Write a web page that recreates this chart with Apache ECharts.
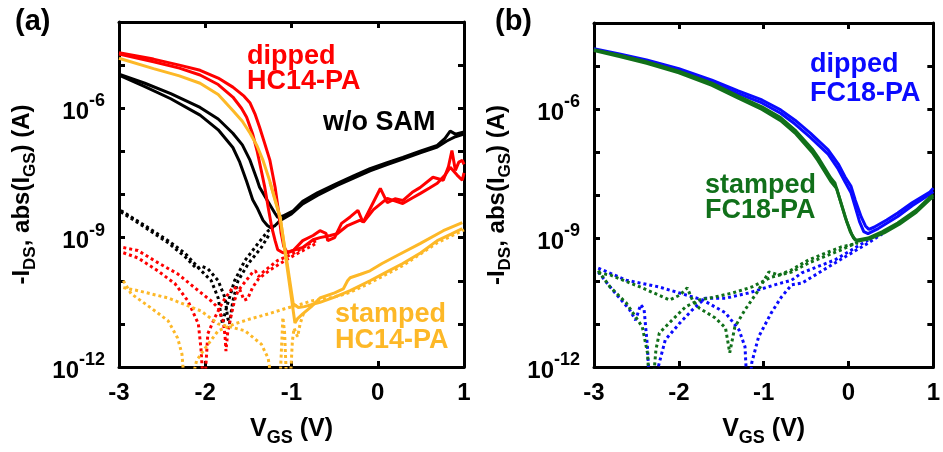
<!DOCTYPE html>
<html>
<head>
<meta charset="utf-8">
<script src="https://cdn.jsdelivr.net/npm/echarts@6/dist/echarts.min.js"></script>
<style>
  html, body { margin: 0; padding: 0; background: #fff; }
  #chart { width: 943px; height: 452px; }
</style>
</head>
<body>
<div id="chart"></div>
<script>
// every curve is [V_GS (V), log10 of current (A)]

// panel (a): w/o SAM (black)
var noSamDrain1 = [[-3, -5.21], [-2.7, -5.42], [-2.4, -5.66], [-2.06, -5.98], [-1.85, -6.25], [-1.68, -6.58], [-1.57, -6.85], [-1.48, -7.21], [-1.40, -7.65], [-1.37, -7.83], [-1.28, -8.14], [-1.19, -8.44], [-1.16, -8.53], [-1.10, -8.50], [-0.98, -8.38], [-0.87, -8.16], [-0.70, -7.96], [-0.47, -7.74], [-0.28, -7.57], [-0.09, -7.40], [0.10, -7.27], [0.29, -7.14], [0.50, -6.99], [0.69, -6.86], [0.78, -6.70], [0.84, -6.53], [0.90, -6.60], [1.0, -6.55]];
var noSamDrain2 = [[-3, -5.23], [-2.7, -5.5], [-2.4, -5.78], [-2.06, -6.16], [-1.85, -6.5], [-1.68, -6.91], [-1.60, -7.25], [-1.52, -7.70], [-1.45, -8.12], [-1.40, -8.30], [-1.33, -8.60], [-1.28, -8.72], [-1.24, -8.77], [-1.19, -8.72], [-1.13, -8.60], [-1.0, -8.45], [-0.87, -8.22], [-0.70, -8.02], [-0.47, -7.79], [-0.28, -7.62], [-0.09, -7.45], [0.10, -7.31], [0.29, -7.18], [0.50, -7.03], [0.69, -6.90], [0.80, -6.76], [0.90, -6.66], [1.0, -6.60]];
var noSamGate1 = [[-2.98, -8.37], [-2.70, -8.72], [-2.43, -9.07], [-2.23, -9.37], [-2.08, -9.70], [-1.93, -10.0], [-1.85, -10.40], [-1.82, -10.77], [-1.80, -11.0], [-1.77, -10.75], [-1.74, -10.53], [-1.66, -10.0], [-1.54, -9.53], [-1.39, -9.14], [-1.27, -8.84], [-1.21, -8.77]];
var noSamGate2 = [[-2.98, -8.40], [-2.70, -8.76], [-2.43, -9.12], [-2.23, -9.45], [-2.10, -9.72], [-2.05, -9.66], [-1.97, -9.72], [-1.85, -10.0], [-1.77, -10.40], [-1.74, -10.86], [-1.72, -11.0], [-1.68, -10.47], [-1.62, -10.0], [-1.50, -9.60], [-1.35, -9.23], [-1.25, -8.90]];

// panel (a): dipped HC14-PA (red)
var dipHcDrain1 = [[-3, -4.71], [-2.6, -4.86], [-2.3, -5.0], [-2.06, -5.12], [-1.85, -5.3], [-1.68, -5.51], [-1.55, -5.72], [-1.48, -5.88], [-1.42, -6.15], [-1.37, -6.44], [-1.31, -6.82], [-1.25, -7.21], [-1.19, -7.83], [-1.15, -8.40], [-1.12, -8.90], [-1.09, -9.20], [-1.05, -9.35], [-0.98, -9.30], [-0.87, -9.07], [-0.75, -8.95], [-0.67, -8.84], [-0.60, -8.90], [-0.58, -9.07], [-0.50, -9.0], [-0.42, -8.67], [-0.32, -8.52], [-0.23, -8.37], [-0.17, -8.65], [0.03, -7.86], [0.11, -8.19], [0.20, -8.10], [0.29, -8.14], [0.40, -7.95], [0.49, -7.84], [0.64, -7.60], [0.76, -7.67], [0.82, -7.35], [0.86, -6.98], [0.90, -7.44], [0.94, -7.25], [0.98, -7.21], [1.0, -7.3]];
var dipHcDrain2 = [[-3, -4.74], [-2.6, -4.92], [-2.3, -5.07], [-2.06, -5.23], [-1.85, -5.45], [-1.68, -5.74], [-1.58, -6.0], [-1.52, -6.21], [-1.45, -6.6], [-1.40, -6.98], [-1.35, -7.45], [-1.31, -7.83], [-1.27, -8.3], [-1.23, -8.75], [-1.19, -9.07], [-1.16, -9.28], [-1.10, -9.35], [-1.02, -9.32], [-0.87, -9.23], [-0.75, -9.05], [-0.67, -9.0], [-0.55, -8.95], [-0.47, -8.91], [-0.35, -8.72], [-0.21, -8.60], [-0.16, -8.63], [-0.05, -8.35], [0.11, -8.09], [0.29, -8.21], [0.40, -8.08], [0.49, -7.98], [0.60, -7.85], [0.69, -7.74], [0.78, -7.55], [0.84, -7.37], [0.92, -7.55], [0.98, -7.67], [1.0, -7.5]];
var dipHcGate1 = [[-2.95, -9.23], [-2.78, -9.30], [-2.55, -9.58], [-2.32, -9.84], [-2.08, -10.23], [-1.93, -10.47], [-1.85, -10.63], [-1.79, -10.95], [-1.77, -11.3], [-1.76, -11.63], [-1.74, -11.2], [-1.71, -10.9], [-1.66, -10.45], [-1.62, -10.23], [-1.50, -9.93], [-1.45, -9.80], [-1.42, -9.77], [-1.38, -9.9], [-1.33, -9.8], [-1.28, -9.72], [-1.16, -9.53], [-0.96, -9.35], [-0.80, -9.15], [-0.69, -9.05]];
var dipHcGate2 = [[-2.95, -9.35], [-2.78, -9.47], [-2.55, -9.77], [-2.35, -10.07], [-2.20, -10.47], [-2.08, -11.0], [-2.05, -11.56], [-2.03, -12.2], [-2.00, -12.2], [-1.97, -11.23], [-1.89, -10.86], [-1.80, -10.5], [-1.68, -10.15], [-1.60, -10.2], [-1.55, -10.45], [-1.51, -10.42], [-1.45, -10.15], [-1.38, -9.95], [-1.25, -9.75], [-1.05, -9.5], [-0.85, -9.28], [-0.70, -9.12]];

// panel (a): stamped HC14-PA (orange)
var stHcDrain1 = [[-3, -4.84], [-2.6, -5.08], [-2.3, -5.25], [-2.06, -5.42], [-1.85, -5.68], [-1.68, -6.05], [-1.57, -6.30], [-1.48, -6.58], [-1.40, -6.87], [-1.33, -7.21], [-1.25, -7.70], [-1.21, -7.98], [-1.13, -8.53], [-1.05, -9.7], [-0.96, -10.98], [-0.93, -10.88], [-0.87, -10.77], [-0.77, -10.6], [-0.67, -10.40], [-0.50, -10.28], [-0.40, -10.19], [-0.35, -10.0], [-0.32, -9.93], [-0.20, -9.85], [-0.09, -9.77], [0.05, -9.6], [0.22, -9.42], [0.49, -9.14], [0.76, -8.84], [0.98, -8.65]];
var stHcDrain2 = [[-1.25, -7.72], [-1.13, -8.56], [-1.05, -9.6], [-0.98, -10.53], [-0.92, -10.62], [-0.85, -10.6], [-0.67, -10.50], [-0.50, -10.38], [-0.32, -10.23], [-0.09, -10.0], [0.10, -9.80], [0.29, -9.60], [0.50, -9.35], [0.69, -9.07], [0.85, -8.92], [0.98, -8.79]];
var stHcGate1 = [[-2.95, -10.0], [-2.86, -10.30], [-2.63, -10.63], [-2.43, -10.93], [-2.32, -11.33], [-2.27, -11.7], [-2.25, -12.2]];
var stHcGate2 = [[-2.95, -10.16], [-2.78, -10.23], [-2.43, -10.40], [-2.05, -10.70], [-1.85, -11.0], [-1.54, -11.16], [-1.35, -11.47], [-1.27, -11.8], [-1.24, -12.2]];
var stHcGate3 = [[-2.14, -12.2], [-2.10, -11.85], [-2.0, -11.56], [-1.85, -11.16], [-1.66, -11.0], [-1.47, -10.88], [-1.27, -10.77], [-1.08, -10.65], [-0.90, -10.55], [-0.77, -10.47], [-0.60, -10.42], [-0.40, -10.32], [-0.32, -10.27], [-0.09, -10.05], [0.29, -9.65], [0.69, -9.12], [1.0, -8.82]];
var stHcGate4 = [[-1.13, -12.2], [-1.11, -11.3], [-1.10, -10.85], [-1.08, -11.2], [-1.06, -12.2]];
var stHcGate5 = [[-1.01, -12.2], [-0.99, -11.4], [-0.97, -11.1], [-0.93, -11.3], [-0.90, -11.0], [-0.86, -10.75]];

// panel (b): dipped FC18-PA (blue)
var dipFcDrain1 = [[-3, -4.60], [-2.7, -4.72], [-2.38, -4.86], [-2.0, -5.06], [-1.61, -5.33], [-1.30, -5.58], [-1.02, -5.79], [-0.80, -6.02], [-0.63, -6.26], [-0.45, -6.56], [-0.24, -6.95], [-0.12, -7.28], [-0.04, -7.58], [0.03, -7.80], [0.08, -8.12], [0.15, -8.51], [0.20, -8.72], [0.24, -8.80], [0.30, -8.75], [0.45, -8.58], [0.58, -8.42], [0.75, -8.18], [0.96, -7.93], [1.0, -7.84]];
var dipFcDrain2 = [[-3, -4.62], [-2.7, -4.75], [-2.38, -4.90], [-2.0, -5.10], [-1.61, -5.38], [-1.30, -5.64], [-1.02, -5.86], [-0.80, -6.10], [-0.63, -6.35], [-0.45, -6.66], [-0.24, -7.05], [-0.12, -7.40], [-0.04, -7.70], [0.03, -7.95], [0.08, -8.28], [0.13, -8.62], [0.18, -8.85], [0.23, -8.90], [0.35, -8.78], [0.58, -8.50], [0.75, -8.25], [0.96, -7.98], [1.0, -7.92]];
var dipFcGate1 = [[-2.95, -9.70], [-2.62, -9.98], [-2.23, -10.14], [-1.99, -10.28], [-1.72, -10.44], [-1.45, -10.74], [-1.29, -11.14], [-1.22, -11.53], [-1.20, -12.3], [-1.16, -12.3], [-1.14, -11.9], [-1.06, -11.3], [-0.91, -10.74], [-0.79, -10.37], [-0.67, -10.09], [-0.55, -10.05], [-0.16, -9.58], [0.23, -9.12], [0.40, -8.9]];
var dipFcGate2 = [[-2.95, -9.79], [-2.78, -10.21], [-2.58, -10.67], [-2.51, -10.91], [-2.45, -10.55], [-2.41, -10.65], [-2.37, -11.53], [-2.35, -12.3], [-2.28, -12.3], [-2.23, -11.9], [-2.16, -11.37], [-1.99, -10.98], [-1.84, -10.67], [-1.69, -10.40], [-1.45, -10.40], [-1.18, -10.28], [-0.87, -10.09], [-0.67, -9.98], [-0.55, -9.81], [-0.16, -9.51], [0.23, -9.05]];

// panel (b): stamped FC18-PA (green)
var stFcDrain1 = [[-3, -4.62], [-2.7, -4.75], [-2.38, -4.90], [-2.0, -5.12], [-1.61, -5.40], [-1.30, -5.70], [-1.02, -5.95], [-0.80, -6.2], [-0.63, -6.49], [-0.42, -6.95], [-0.36, -7.12], [-0.21, -7.6], [-0.16, -7.72], [-0.04, -8.51], [0.02, -8.85], [0.06, -9.0], [0.09, -9.05], [0.23, -9.0], [0.40, -8.85], [0.58, -8.65], [0.80, -8.35], [0.96, -8.05], [1.0, -8.0]];
var stFcDrain2 = [[-3, -4.64], [-2.7, -4.78], [-2.38, -4.94], [-2.0, -5.16], [-1.61, -5.45], [-1.30, -5.75], [-1.02, -6.01], [-0.80, -6.27], [-0.63, -6.56], [-0.42, -7.03], [-0.36, -7.20], [-0.21, -7.68], [-0.14, -7.85], [-0.02, -8.62], [0.04, -8.92], [0.08, -9.05], [0.12, -9.07], [0.25, -9.02], [0.42, -8.88], [0.60, -8.68], [0.80, -8.40], [0.96, -8.10], [1.0, -8.05]];
var stFcGate1 = [[-2.95, -9.81], [-2.81, -9.86], [-2.43, -10.16], [-2.11, -10.44], [-1.99, -10.33], [-1.90, -10.16], [-1.84, -10.44], [-1.76, -10.63], [-1.57, -10.86], [-1.45, -11.09], [-1.40, -11.67], [-1.34, -11.07], [-1.22, -10.67], [-1.06, -10.21], [-0.94, -9.79], [-0.82, -9.86], [-0.67, -9.74], [-0.47, -9.51], [-0.09, -9.21], [0.11, -9.12]];
var stFcGate2 = [[-2.95, -9.76], [-2.81, -10.14], [-2.62, -10.51], [-2.43, -11.07], [-2.37, -11.67], [-2.35, -12.3], [-2.30, -12.3], [-2.27, -11.6], [-2.23, -11.21], [-2.08, -10.91], [-1.92, -10.60], [-1.76, -10.44], [-1.57, -10.37], [-1.37, -10.28], [-1.14, -10.14], [-0.91, -9.91], [-0.67, -9.79], [-0.47, -9.58], [-0.09, -9.28], [0.11, -9.10]];

var xTicks = [-3, -2, -1, 0, 1];
var labelledDecades = [-12, -9, -6];

var FONT = '"Liberation Sans", Arial, sans-serif';
var RED = '#ff0000', ORANGE = '#fdb827', BLUE = '#0a0aff', GREEN = '#11701a';

function curve(pts, color, dotted, panel) {
  return {
    type: 'line',
    xAxisIndex: panel * 2,
    yAxisIndex: panel * 2,
    data: pts.map(function (p) { return [p[0], Math.pow(10, p[1])]; }),
    symbol: 'none',
    silent: true,
    clip: true,
    lineStyle: { color: color, width: 3, type: dotted ? [3, 3] : 'solid', cap: 'butt' }
  };
}

function xAxes(panel) {
  var base = {
    type: 'value', gridIndex: panel, min: xTicks[0], max: xTicks[xTicks.length - 1], interval: 1,
    splitLine: { show: false },
    axisLine: { onZero: false, lineStyle: { color: '#000', width: 3 } },
    axisTick: { show: true, inside: true, length: 6, lineStyle: { color: '#000', width: 3 } }
  };
  var bottom = Object.assign({}, base, {
    position: 'bottom',
    name: 'V{sub|GS} (V)',
    nameLocation: 'middle',
    nameGap: 44,
    nameTextStyle: {
      color: '#000', fontFamily: FONT, fontWeight: 'bold', fontSize: 25, lineHeight: 36,
      rich: { sub: { fontFamily: FONT, fontWeight: 'bold', fontSize: 18, lineHeight: 20, verticalAlign: 'bottom' } }
    },
    axisLabel: { color: '#000', fontFamily: FONT, fontWeight: 'bold', fontSize: 24, margin: 14 }
  });
  var top = Object.assign({}, base, { position: 'top', axisLabel: { show: false } });
  return [bottom, top];
}

function yAxes(panel) {
  var base = {
    type: 'log', logBase: 10, gridIndex: panel, min: 1e-12, max: 1e-4, splitNumber: 8,
    splitLine: { show: false },
    axisLine: { onZero: false, lineStyle: { color: '#000', width: 3 } },
    axisTick: { show: true, inside: true, length: 6, lineStyle: { color: '#000', width: 3 } }
  };
  var left = Object.assign({}, base, {
    position: 'left',
    name: '-I{sub|DS}, abs(I{sub|GS}) (A)',
    nameLocation: 'middle',
    nameGap: 80,
    nameTextStyle: {
      color: '#000', fontFamily: FONT, fontWeight: 'bold', fontSize: 24, lineHeight: 34,
      rich: { sub: { fontFamily: FONT, fontWeight: 'bold', fontSize: 17, lineHeight: 18, verticalAlign: 'bottom' } }
    },
    axisLabel: {
      color: '#000', fontFamily: FONT, fontWeight: 'bold', fontSize: 24, lineHeight: 40,
      margin: 14, padding: [8, 0, 0, 0],
      formatter: function (v) {
        var e = Math.round(Math.log10(v));
        return labelledDecades.indexOf(e) >= 0 ? '10{sup|' + e + '}' : '';
      },
      rich: { sup: { fontFamily: FONT, fontWeight: 'bold', fontSize: 18, lineHeight: 16, verticalAlign: 'top' } }
    }
  });
  var right = Object.assign({}, base, { position: 'right', axisLabel: { show: false } });
  return [left, right];
}

function note(text, color, x, y, size) {
  return {
    type: 'text', x: x, y: y, silent: true,
    style: { text: text, fill: color, font: 'bold ' + (size || 27) + 'px ' + FONT, verticalAlign: 'middle' }
  };
}

var chart = echarts.init(document.getElementById('chart'));
chart.setOption({
  animation: false,
  backgroundColor: '#fff',
  grid: [
    { left: 119, top: 22, width: 345, height: 345 },
    { left: 594, top: 23, width: 342, height: 345 }
  ],
  xAxis: xAxes(0).concat(xAxes(1)),
  yAxis: yAxes(0).concat(yAxes(1)),
  series: [
    curve(noSamGate1, '#000', true, 0),
    curve(noSamGate2, '#000', true, 0),
    curve(dipHcGate1, RED, true, 0),
    curve(dipHcGate2, RED, true, 0),
    curve(stHcGate1, ORANGE, true, 0),
    curve(stHcGate2, ORANGE, true, 0),
    curve(stHcGate3, ORANGE, true, 0),
    curve(stHcGate4, ORANGE, true, 0),
    curve(stHcGate5, ORANGE, true, 0),
    curve(noSamDrain1, '#000', false, 0),
    curve(noSamDrain2, '#000', false, 0),
    curve(dipHcDrain1, RED, false, 0),
    curve(dipHcDrain2, RED, false, 0),
    curve(stHcDrain2, ORANGE, false, 0),
    curve(stHcDrain1, ORANGE, false, 0),

    curve(dipFcGate1, BLUE, true, 1),
    curve(dipFcGate2, BLUE, true, 1),
    curve(stFcGate1, GREEN, true, 1),
    curve(stFcGate2, GREEN, true, 1),
    curve(dipFcDrain1, BLUE, false, 1),
    curve(dipFcDrain2, BLUE, false, 1),
    curve(stFcDrain1, GREEN, false, 1),
    curve(stFcDrain2, GREEN, false, 1)
  ],
  graphic: [
    note('(a)', '#000', 15, 22, 29),
    note('(b)', '#000', 495, 22, 29),
    note('dipped', RED, 247, 57),
    note('HC14-PA', RED, 247, 82),
    note('w/o SAM', '#000', 323, 123),
    note('stamped', ORANGE, 335, 315),
    note('HC14-PA', ORANGE, 335, 341),
    note('dipped', BLUE, 810, 65),
    note('FC18-PA', BLUE, 810, 94),
    note('stamped', GREEN, 705, 186),
    note('FC18-PA', GREEN, 705, 211)
  ]
});
</script>
</body>
</html>
